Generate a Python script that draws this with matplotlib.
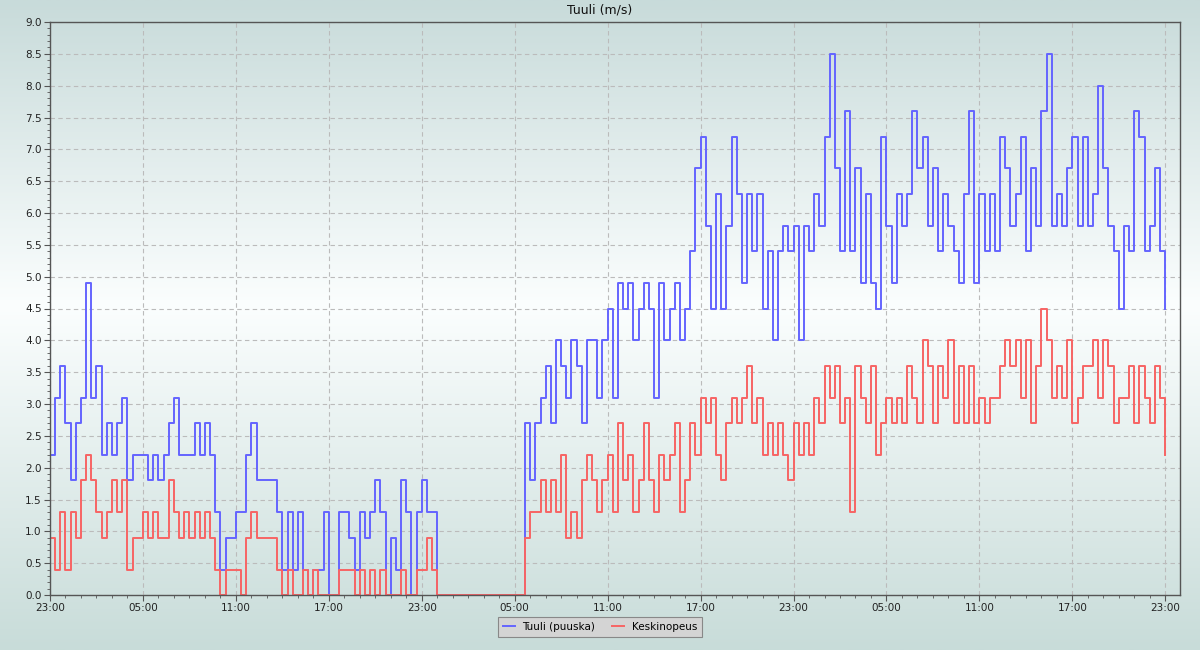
import numpy as np
import pandas as pd
import matplotlib
matplotlib.use('Agg')
import matplotlib.pyplot as plt
import matplotlib.dates as mdates
from matplotlib.colors import LinearSegmentedColormap

# 20 minute samples starting 23:00
start = pd.Timestamp('2024-05-01 23:00')
step = '20min'

title = 'Tuuli (m/s)'
labels = ['Tuuli (puuska)', 'Keskinopeus']

# gust (m/s)
gust = [
    2.2, 3.1, 3.6, 2.7, 1.8, 2.7, 3.1, 4.9, 3.1, 3.6, 2.2, 2.7, 2.2, 2.7, 3.1, 1.8, 2.2, 2.2,
    2.2, 1.8, 2.2, 1.8, 2.2, 2.7, 3.1, 2.2, 2.2, 2.2, 2.7, 2.2, 2.7, 2.2, 1.3, 0.4, 0.9, 0.9,
    1.3, 1.3, 2.2, 2.7, 1.8, 1.8, 1.8, 1.8, 1.3, 0.4, 1.3, 0.4, 1.3, 0.4, 0.0, 0.4, 0.4, 1.3,
    0.0, 0.0, 1.3, 1.3, 0.9, 0.4, 1.3, 0.9, 1.3, 1.8, 1.3, 0.0, 0.9, 0.4, 1.8, 1.3, 0.0, 1.3,
    1.8, 1.3, 1.3, 0.0, 0.0, 0.0, 0.0, 0.0, 0.0, 0.0, 0.0, 0.0, 0.0, 0.0, 0.0, 0.0, 0.0, 0.0,
    0.0, 0.0, 2.7, 1.8, 2.7, 3.1, 3.6, 2.7, 4.0, 3.6, 3.1, 4.0, 3.6, 2.7, 4.0, 4.0, 3.1, 4.0,
    4.5, 3.1, 4.9, 4.5, 4.9, 4.0, 4.5, 4.9, 4.5, 3.1, 4.9, 4.0, 4.5, 4.9, 4.0, 4.5, 5.4, 6.7,
    7.2, 5.8, 4.5, 6.3, 4.5, 5.8, 7.2, 6.3, 4.9, 6.3, 5.4, 6.3, 4.5, 5.4, 4.0, 5.4, 5.8, 5.4,
    5.8, 4.0, 5.8, 5.4, 6.3, 5.8, 7.2, 8.5, 6.7, 5.4, 7.6, 5.4, 6.7, 4.9, 6.3, 4.9, 4.5, 7.2,
    5.8, 4.9, 6.3, 5.8, 6.3, 7.6, 6.7, 7.2, 5.8, 6.7, 5.4, 6.3, 5.8, 5.4, 4.9, 6.3, 7.6, 4.9,
    6.3, 5.4, 6.3, 5.4, 7.2, 6.7, 5.8, 6.3, 7.2, 5.4, 6.7, 5.8, 7.6, 8.5, 5.8, 6.3, 5.8, 6.7,
    7.2, 5.8, 7.2, 5.8, 6.3, 8.0, 6.7, 5.8, 5.4, 4.5, 5.8, 5.4, 7.6, 7.2, 5.4, 5.8, 6.7, 5.4, 4.5,
]

# mean speed (m/s)
avg = [
    0.9, 0.4, 1.3, 0.4, 1.3, 0.9, 1.8, 2.2, 1.8, 1.3, 0.9, 1.3, 1.8, 1.3, 1.8, 0.4, 0.9, 0.9,
    1.3, 0.9, 1.3, 0.9, 0.9, 1.8, 1.3, 0.9, 1.3, 0.9, 1.3, 0.9, 1.3, 0.9, 0.4, 0.0, 0.4, 0.4,
    0.4, 0.0, 0.9, 1.3, 0.9, 0.9, 0.9, 0.9, 0.4, 0.0, 0.4, 0.0, 0.0, 0.4, 0.0, 0.4, 0.0, 0.0,
    0.0, 0.0, 0.4, 0.4, 0.4, 0.0, 0.4, 0.0, 0.4, 0.0, 0.4, 0.0, 0.0, 0.0, 0.4, 0.0, 0.0, 0.4,
    0.4, 0.9, 0.4, 0.0, 0.0, 0.0, 0.0, 0.0, 0.0, 0.0, 0.0, 0.0, 0.0, 0.0, 0.0, 0.0, 0.0, 0.0,
    0.0, 0.0, 0.9, 1.3, 1.3, 1.8, 1.3, 1.8, 1.3, 2.2, 0.9, 1.3, 0.9, 1.8, 2.2, 1.8, 1.3, 1.8,
    2.2, 1.3, 2.7, 1.8, 2.2, 1.3, 1.8, 2.7, 1.8, 1.3, 2.2, 1.8, 2.2, 2.7, 1.3, 1.8, 2.7, 2.2,
    3.1, 2.7, 3.1, 2.2, 1.8, 2.7, 3.1, 2.7, 3.1, 3.6, 2.7, 3.1, 2.2, 2.7, 2.2, 2.7, 2.2, 1.8,
    2.7, 2.2, 2.7, 2.2, 3.1, 2.7, 3.6, 3.1, 3.6, 2.7, 3.1, 1.3, 3.6, 3.1, 2.7, 3.6, 2.2, 2.7,
    3.1, 2.7, 3.1, 2.7, 3.6, 3.1, 2.7, 4.0, 3.6, 2.7, 3.6, 3.1, 4.0, 2.7, 3.6, 2.7, 3.6, 2.7,
    3.1, 2.7, 3.1, 3.1, 3.6, 4.0, 3.6, 4.0, 3.1, 4.0, 2.7, 3.6, 4.5, 4.0, 3.1, 3.6, 3.1, 4.0,
    2.7, 3.1, 3.6, 3.6, 4.0, 3.1, 4.0, 3.6, 2.7, 3.1, 3.1, 3.6, 2.7, 3.6, 3.1, 2.7, 3.6, 3.1, 2.2,
]

times = pd.date_range(start, periods=len(gust), freq=step)

fig = plt.figure(figsize=(12, 6.5), dpi=100)

# vertical background gradient over the whole picture
bg = fig.add_axes([0, 0, 1, 1], zorder=0)
bg.axis('off')
cmap = LinearSegmentedColormap.from_list(
    'bg', [(0, '#c8dcd9'), (0.53, '#fbfefe'), (1, '#c8dbda')])
bg.imshow(np.linspace(0, 1, 256).reshape(-1, 1), cmap=cmap, aspect='auto',
          origin='lower', extent=[0, 1, 0, 1])

ax = fig.add_axes([50/1200, 55/650, 1130/1200, 573/650], zorder=1)
ax.patch.set_alpha(0)

ax.step(times, gust, where='post', color='#6464ff', lw=1.4, label=labels[0])
ax.step(times, avg, where='post', color='#f76464', lw=1.4, label=labels[1])

ax.set_xlim(start, start + pd.Timedelta(hours=72.95))
ax.set_ylim(0, 9)
ax.set_yticks(np.arange(0, 9.01, 0.5))
ax.yaxis.set_major_formatter(plt.FormatStrFormatter('%.1f'))
ax.yaxis.set_minor_locator(plt.MultipleLocator(0.1))
ax.xaxis.set_major_locator(mdates.HourLocator(byhour=[5, 11, 17, 23]))
ax.xaxis.set_minor_locator(mdates.HourLocator())
ax.xaxis.set_major_formatter(mdates.DateFormatter('%H:%M'))

ax.grid(True, which='major', color='#bbbbbb', linestyle=(0, (4, 3)), linewidth=0.8)
for s in ax.spines.values():
    s.set_color('#555555')
    s.set_linewidth(1)
ax.tick_params(which='major', direction='out', length=4, color='#555555',
               labelsize=7.5, labelcolor='#222222', pad=2)
ax.tick_params(which='minor', direction='out', length=2, color='#555555')

fig.text(0.5, 1 - 10/650, title, ha='center', va='center', fontsize=9, color='#111111')

leg = fig.legend(loc='center', bbox_to_anchor=(0.5, 1 - 627/650), ncol=2, fontsize=7.5,
                 frameon=True, fancybox=False, edgecolor='#888888', facecolor='#d4d4d4',
                 framealpha=1, handlelength=1.15, columnspacing=1.6, borderpad=0.45,
                 handletextpad=0.75)
leg.get_frame().set_linewidth(0.8)

fig.savefig('out.png', dpi=100)
